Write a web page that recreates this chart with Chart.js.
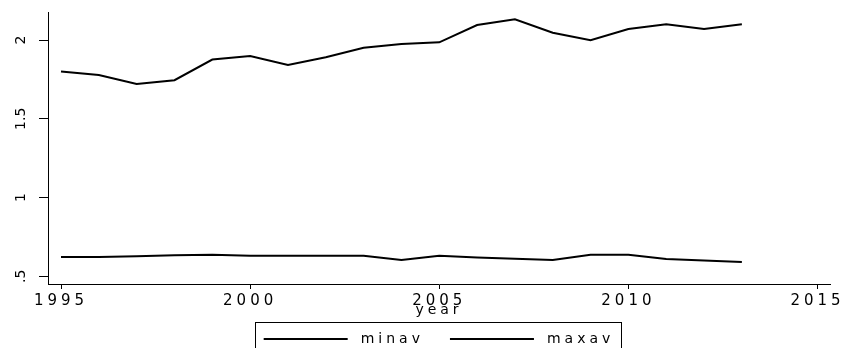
<!DOCTYPE html>
<html>
<head>
<meta charset="utf-8">
<script src="https://cdn.jsdelivr.net/npm/chart.js@4.4.1/dist/chart.umd.min.js"></script>
<style>
  html, body { margin: 0; padding: 0; background: #fff; }
  #c { display: block; }
</style>
</head>
<body>
<canvas id="c" width="842" height="348"></canvas>
<script>
// Yearly averages
const years = [1995, 1996, 1997, 1998, 1999, 2000, 2001, 2002, 2003, 2004,
               2005, 2006, 2007, 2008, 2009, 2010, 2011, 2012, 2013];
const minav = [0.622, 0.622, 0.628, 0.633, 0.637, 0.631, 0.631, 0.631, 0.631, 0.603,
               0.631, 0.619, 0.612, 0.603, 0.637, 0.637, 0.610, 0.601, 0.591];
const maxav = [1.800, 1.778, 1.721, 1.745, 1.876, 1.898, 1.841, 1.890, 1.951, 1.975,
               1.985, 2.095, 2.131, 2.046, 1.998, 2.070, 2.100, 2.070, 2.100];
const seriesNames = ['minav', 'maxav'];

// Axes
const xTicks = [1995, 2000, 2005, 2010, 2015];
const yTicks = [0.5, 1, 1.5, 2];
const yTickLabels = ['.5', '1', '1.5', '2'];
const xRange = [1994.656, 2015.33];
const yRange = [0.4511, 2.1778];
const xTitle = 'year';

const FONT = 'DejaVu Sans';
const SPACING = '4px';

const points = vals => years.map((yr, i) => ({ x: yr, y: vals[i] }));

// Wide horizontal lettering; the rotated y labels stay unspaced.
const letterSpacingPlugin = {
  id: 'letterSpacing',
  beforeUpdate(chart) { chart.ctx.letterSpacing = SPACING; },
  beforeDraw(chart) {
    chart.ctx.letterSpacing = SPACING;
    const ys = chart.scales.y;
    if (ys && !ys.__plainLabels) {
      const draw = ys.drawLabels;
      ys.drawLabels = function (area) {
        const c = this.ctx;
        c.letterSpacing = '0px';
        draw.call(this, area);
        c.letterSpacing = SPACING;
      };
      ys.__plainLabels = true;
    }
  }
};

// Frame around the legend row
const legendFramePlugin = {
  id: 'legendFrame',
  afterDraw(chart) {
    const lg = chart.legend;
    const hb = lg && lg.legendHitBoxes;
    if (!hb || !hb.length) return;
    const last = hb[hb.length - 1];
    const l = Math.round(hb[0].left - 9) + 0.5;
    const r = Math.round(last.left + last.width + 7) + 0.5;
    const t = Math.round(hb[0].top - 10) + 0.5;
    const c = chart.ctx;
    c.save();
    c.strokeStyle = '#000';
    c.lineWidth = 1;
    c.strokeRect(l, t, r - l, chart.height - t + 10);
    c.restore();
  }
};

const xTickFont = { family: FONT, size: 15 };
const yTickFont = { family: FONT, size: 14 };
const titleFont = { family: FONT, size: 14 };

new Chart(document.getElementById('c'), {
  type: 'line',
  data: {
    datasets: [
      { label: seriesNames[0], data: points(minav), borderColor: '#000', backgroundColor: '#000',
        borderWidth: 2, pointRadius: 0, tension: 0 },
      { label: seriesNames[1], data: points(maxav), borderColor: '#000', backgroundColor: '#000',
        borderWidth: 2, pointRadius: 0, tension: 0 }
    ]
  },
  options: {
    responsive: false,
    animation: false,
    devicePixelRatio: 1,
    layout: { padding: { left: 0, right: 12, top: 12, bottom: 0 } },
    plugins: {
      tooltip: { enabled: false },
      legend: {
        position: 'bottom',
        fullSize: false,
        maxHeight: 42,
        labels: {
          boxWidth: 90,
          boxHeight: 0,
          padding: 26,
          color: '#000',
          font: { family: FONT, size: 14 },
          generateLabels(chart) {
            const items = Chart.defaults.plugins.legend.labels.generateLabels(chart);
            // legend key: an 84px solid stroke, leaving a gap before the label
            items.forEach(it => {
              it.fillStyle = 'rgba(0,0,0,0)';
              it.strokeStyle = '#000';
              it.lineWidth = 2;
              it.lineCap = 'butt';
              it.lineDash = [84, 1000];
              it.lineDashOffset = 0;
            });
            return items;
          }
        }
      }
    },
    scales: {
      x: {
        type: 'linear',
        min: xRange[0],
        max: xRange[1],
        afterBuildTicks(s) { s.ticks = xTicks.map(v => ({ value: v })); },
        afterFit(s) { s.height = 22; s.paddingLeft = 0; s.paddingRight = 0; },
        grid: { display: true, drawOnChartArea: false, tickLength: 5, color: '#000', lineWidth: 1 },
        border: { display: true, color: '#000', width: 1 },
        ticks: { color: '#000', font: xTickFont, padding: 3, maxRotation: 0, autoSkip: false,
                 callback: v => String(v) },
        title: { display: true, text: xTitle, color: '#000', font: titleFont,
                 padding: { top: 0, bottom: -13 } }
      },
      y: {
        type: 'linear',
        min: yRange[0],
        max: yRange[1],
        afterBuildTicks(s) { s.ticks = yTicks.map(v => ({ value: v })); },
        afterFit(s) { s.width = 48; s.paddingTop = 0; s.paddingBottom = 0; },
        grid: { display: true, drawOnChartArea: false, tickLength: 9, color: '#000', lineWidth: 1 },
        border: { display: true, color: '#000', width: 1 },
        ticks: { color: '#000', font: yTickFont, padding: 1, minRotation: 90, maxRotation: 90,
                 crossAlign: 'center', autoSkip: false,
                 callback: v => yTickLabels[yTicks.indexOf(v)] }
      }
    }
  },
  plugins: [letterSpacingPlugin, legendFramePlugin]
});
</script>
</body>
</html>
